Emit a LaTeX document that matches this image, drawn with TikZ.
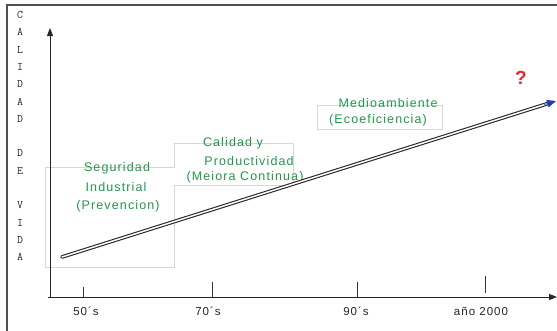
\documentclass[tikz,border=0pt]{standalone}
\usepackage{fontspec}
\usetikzlibrary{arrows.meta,calc}
\newfontfamily\lblfont[LetterSpace=9]{Liberation Sans}
\newfontfamily\qfont{Liberation Sans}
\definecolor{txtgreen}{RGB}{35,150,75}
\definecolor{boxgray}{RGB}{215,215,215}
\definecolor{framegray}{RGB}{80,80,80}
\definecolor{arrowblue}{RGB}{30,60,170}
\definecolor{qred}{RGB}{230,40,40}
\begin{document}
\begin{tikzpicture}[x=1pt,y=-1pt,
  greentext/.style={text=txtgreen, font=\lblfont\fontsize{12.5}{14}\selectfont, inner sep=0pt},
  axislabel/.style={text=black!85, font=\lblfont\fontsize{11.5}{13}\selectfont, inner sep=0pt},
  yletter/.style={text=black!85, font=\ttfamily\fontsize{11.5}{12}\selectfont, inner sep=0pt},
  axisline/.style={draw=black!85, line width=1pt},
  tickline/.style={draw=black!80, line width=0.8pt},
  clipbox/.style={draw=boxgray, line width=0.8pt},
  frameline/.style={draw=framegray, line width=1.8pt},
  trend/.style={draw=black!85, double=white, double distance=1.5pt, line width=1.1pt}]
\useasboundingbox (0,0) rectangle (557,330);
% outer frame (top and left only visible)
\draw[frameline] (7,331) -- (7,5) -- (558,5);
% light clip boxes
\draw[clipbox] (45,267) -- (45,167) -- (174,167) -- (174,143) -- (293,143) -- (293,185) -- (174,185) -- (174,267) -- cycle;
\draw[clipbox] (317,105) rectangle (442,129);
% axes
\coordinate (origin) at (50,297);
\coordinate (ytip) at (50,28);
\coordinate (xtip) at (557,297);
\draw[axisline, -{Triangle[length=8pt,width=6pt]}] (origin) -- (ytip);
\draw[axisline, -{Triangle[length=8pt,width=6pt]}] (48,297) -- (xtip);
% ticks
\coordinate (t1a) at (83,287); \coordinate (t1b) at (83,297);
\coordinate (t2a) at (212,282); \coordinate (t2b) at (212,297);
\coordinate (t3a) at (357,282); \coordinate (t3b) at (357,297);
\coordinate (t4a) at (485,276); \coordinate (t4b) at (485,293);
\draw[tickline] (t1a) -- (t1b);
\draw[tickline] (t2a) -- (t2b);
\draw[tickline] (t3a) -- (t3b);
\draw[tickline] (t4a) -- (t4b);
% axis labels
\node[axislabel] (l50) at (86,311) {50´s};
\node[axislabel] (l70) at (208,311) {70´s};
\node[axislabel] (l90) at (356,311) {90´s};
\node[axislabel] (l2000) at (481,311) {año 2000};
% y-axis letters
\foreach \i/\ch in {0/C,1/A,2/L,3/I,4/D,5/A,6/D,8/D,9/E,11/V,12/I,13/D,14/A}{
  \node[yletter] (yl\i) at (20,{15+17.3*\i}) {\ch};
}
% green labels
\node[greentext] (seg1) at (117,168) {Seguridad};
\node[greentext] (seg2) at (116,187) {Industrial};
\node[greentext] (seg3) at (118,206) {(Prevencion)};
\node[greentext] (cal1) at (233,143) {Calidad y};
\node[greentext] (cal2) at (249,161) {Productividad};
\node[greentext] (cal3) at (245,177) {(Meiora Continua)};
\node[greentext] (med1) at (388,103) {Medioambiente};
\node[greentext] (med2) at (378,120) {(Ecoeficiencia)};
% question mark
\node[text=qred, font=\qfont\bfseries\fontsize{19}{20}\selectfont, inner sep=0pt] (q) at (521,78) {?};
% trend line
\coordinate (tstart) at (62,257);
\coordinate (tend) at (556,101);
\coordinate (tmid) at ($(tstart)!0.982!(tend)$);
\draw[trend, line cap=round] (tstart) -- (tmid);
\draw[arrowblue, line width=0.5pt, -{Triangle[length=9pt,width=7.5pt]}] ($(tstart)!0.975!(tend)$) -- (tend);
\end{tikzpicture}
\end{document}
